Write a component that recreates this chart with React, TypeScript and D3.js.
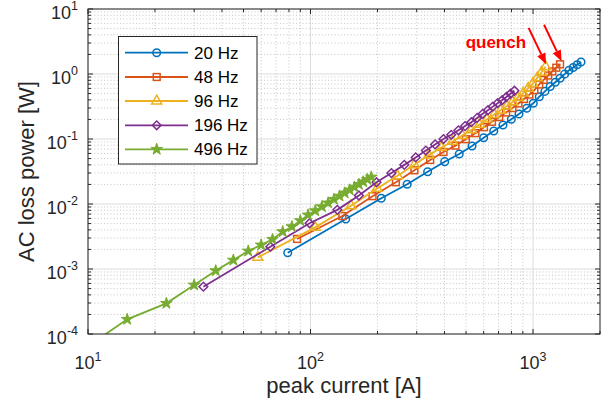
import React from 'react';
import * as d3 from 'd3';

const FONT = "'Liberation Sans', Arial, Helvetica, sans-serif";

// ---- data (peak current [A], AC loss power [W]) ----
const I20 = [79, 144, 208, 272, 336, 401, 466, 532, 600, 666, 733, 799, 865, 937, 1003, 1067, 1131, 1195, 1259, 1323, 1387, 1451, 1515, 1579, 1643];
const P20 = [1.78e-3, 5.87e-3, 0.01225, 0.0201, 0.0314, 0.0448, 0.0588, 0.078, 0.1047, 0.1327, 0.164, 0.201, 0.2425, 0.2966, 0.354, 0.447, 0.54, 0.643, 0.746, 0.861, 0.995, 1.14, 1.26, 1.39, 1.53];

const I48 = [87, 139, 190, 242, 293, 345, 396, 448, 499, 551, 602, 654, 705, 757, 808, 860, 911, 963, 1014, 1066, 1117, 1169, 1220, 1272, 1323];
const P48 = [2.9e-3, 6.53e-3, 0.0132, 0.0216, 0.033, 0.0476, 0.0631, 0.0791, 0.0993, 0.123, 0.152, 0.184, 0.218, 0.256, 0.299, 0.352, 0.412, 0.482, 0.565, 0.69, 0.813, 0.948, 1.094, 1.25, 1.41];

const I96 = [58, 105, 152, 199, 246, 293, 340, 387, 434, 481, 528, 575, 622, 669, 716, 763, 810, 857, 904, 951, 998, 1045, 1092, 1139];
const P96 = [1.51e-3, 4.37e-3, 9.38e-3, 0.01734, 0.0271, 0.0401, 0.0565, 0.0741, 0.0918, 0.113, 0.138, 0.1675, 0.202, 0.238, 0.277, 0.321, 0.372, 0.435, 0.508, 0.6, 0.71, 0.869, 1.064, 1.29];

const I196 = [33, 66, 99, 132, 165, 198, 231, 264, 297, 330, 363, 396, 429, 462, 495, 528, 561, 594, 627, 660, 693, 726, 759, 792, 825];
const P196 = [5.35e-4, 2.2e-3, 5.05e-3, 8.13e-3, 0.0135, 0.0216, 0.0299, 0.04, 0.0521, 0.0664, 0.0826, 0.0998, 0.116, 0.136, 0.158, 0.1815, 0.211, 0.244, 0.277, 0.315, 0.356, 0.395, 0.443, 0.497, 0.553];

const I496 = [7.5, 15, 22.5, 30, 37.5, 45, 52.5, 60, 67.5, 75, 82.5, 90, 97.5, 105, 112.5, 120, 127.5, 135, 142.5, 150, 157.5, 165, 172.5, 180, 187.5];
const P496 = [3.3e-5, 1.68e-4, 2.96e-4, 5.67e-4, 9.4e-4, 1.37e-3, 1.89e-3, 2.34e-3, 2.86e-3, 3.75e-3, 4.48e-3, 5.54e-3, 6.78e-3, 7.88e-3, 9.1e-3, 0.0104, 0.0118, 0.01324, 0.01479, 0.01644, 0.0182, 0.02004, 0.02193, 0.02393, 0.026];

const seriesNames = ['20 Hz', '48 Hz', '96 Hz', '196 Hz', '496 Hz'];
const seriesColors = ['#0072BD', '#D95319', '#EDB120', '#7E2F8E', '#77AC30'];
const seriesMarkers = ['circle', 'square', 'triangle', 'diamond', 'star'];

const xTickExps = [1, 2, 3];
const yTickExps = [-4, -3, -2, -1, 0, 1];

const xLabel = 'peak current [A]';
const yLabel = 'AC loss power [W]';
const annotation = 'quench';

const W = 613;
const H = 410;
const L = 88, R = 600, T = 9, B = 334;

function Marker({ type, color, cx, cy }: { type: string; color: string; cx: number; cy: number }) {
  const t = `translate(${cx},${cy})`;
  const sw = 1.5;
  if (type === 'circle') return <circle cx={cx} cy={cy} r={3.8} fill="none" stroke={color} strokeWidth={sw} />;
  if (type === 'square') return <rect x={cx - 3.4} y={cy - 3.4} width={6.8} height={6.8} fill="none" stroke={color} strokeWidth={sw} />;
  if (type === 'triangle') return <path transform={t} d={d3.symbol(d3.symbolTriangle, 44)() || ''} fill="none" stroke={color} strokeWidth={sw} />;
  if (type === 'diamond') return <path transform={`${t} rotate(45)`} d={d3.symbol(d3.symbolSquare, 38)() || ''} fill="none" stroke={color} strokeWidth={sw} />;
  return <path transform={t} d={d3.symbol(d3.symbolStar, 42)() || ''} fill={color} stroke={color} strokeWidth={1} />;
}

export default function App() {
  const x = d3.scaleLog().domain([10, 2000]).range([L, R]);
  const y = d3.scaleLog().domain([1e-4, 10]).range([B, T]);

  const series = [
    { I: I20, P: P20 },
    { I: I48, P: P48 },
    { I: I96, P: P96 },
    { I: I196, P: P196 },
    { I: I496, P: P496 },
  ].map((s, i) => ({ ...s, name: seriesNames[i], color: seriesColors[i], marker: seriesMarkers[i] }));

  const line = d3.line<[number, number]>().x((d) => x(d[0])).y((d) => y(d[1]));

  const xTicks = x.ticks();
  const yTicks = y.ticks();
  const isMajor = (v: number) => Math.abs(Math.log10(v) - Math.round(Math.log10(v))) < 1e-9;

  const axisColor = '#262626';

  // arrows to the last points of 96 Hz and 48 Hz
  const tips = [
    { px: x(I96[I96.length - 1]) + 0.5, py: y(P96[P96.length - 1]) - 2.5 },
    { px: x(I48[I48.length - 1]) + 1.5, py: y(P48[P48.length - 1]) - 3 },
  ];
  const arrows = tips.map((tp) => {
    const tx = tp.px - 17.5, ty = tp.py - 36.5;
    const dx = tp.px - tx, dy = tp.py - ty;
    const len = Math.hypot(dx, dy);
    const ux = dx / len, uy = dy / len;
    const hl = 11, hw = 4.5;
    const bx = tp.px - ux * hl, by = tp.py - uy * hl;
    const head = `M${tp.px},${tp.py}L${bx - uy * hw},${by + ux * hw}L${bx + uy * hw},${by - ux * hw}Z`;
    return { tx, ty, bx, by, head, tipx: tp.px, tipy: tp.py };
  });

  const legX = 118.5, legY = 36.5, legW = 138.5, legH = 127.5;
  const legRows = [52.7, 77, 101, 125.3, 149.3];

  return (
    <svg width={W} height={H} style={{ position: 'absolute', left: 0, top: 0, background: '#fff' }} fontFamily={FONT}>
      <defs>
        <clipPath id="plotclip">
          <rect x={L} y={T} width={R - L} height={B - T} />
        </clipPath>
      </defs>
      <rect x={0} y={0} width={W} height={H} fill="#fff" />
      {/* grid */}
      <g>
        {xTicks.filter((v) => !isMajor(v)).map((v, i) => (
          <line key={'xm' + i} x1={x(v)} x2={x(v)} y1={T} y2={B} stroke="#b8b8b8" strokeWidth={0.8} strokeDasharray="1 2.2" />
        ))}
        {yTicks.filter((v) => !isMajor(v)).map((v, i) => (
          <line key={'ym' + i} x1={L} x2={R} y1={y(v)} y2={y(v)} stroke="#b8b8b8" strokeWidth={0.8} strokeDasharray="1 2.2" />
        ))}
        {xTicks.filter((v) => isMajor(v)).map((v, i) => (
          <line key={'xM' + i} x1={x(v)} x2={x(v)} y1={T} y2={B} stroke="#dcdcdc" strokeWidth={1} />
        ))}
        {yTicks.filter((v) => isMajor(v)).map((v, i) => (
          <line key={'yM' + i} x1={L} x2={R} y1={y(v)} y2={y(v)} stroke="#dcdcdc" strokeWidth={1} />
        ))}
      </g>
      {/* series */}
      <g clipPath="url(#plotclip)">
        {series.map((s) => {
          const pts = s.I.map((v, i) => [v, s.P[i]] as [number, number]);
          return (
            <g key={s.name}>
              <path d={line(pts) || ''} fill="none" stroke={s.color} strokeWidth={1.8} />
              {pts.map((p, i) => (
                <Marker key={i} type={s.marker} color={s.color} cx={x(p[0])} cy={y(p[1])} />
              ))}
            </g>
          );
        })}
      </g>
      {/* axes box and ticks */}
      <g stroke={axisColor} strokeWidth={1}>
        {xTicks.map((v, i) => {
          const len = isMajor(v) ? 5 : 3;
          const px = x(v);
          return (
            <g key={'xt' + i}>
              <line x1={px} x2={px} y1={B} y2={B - len} />
              <line x1={px} x2={px} y1={T} y2={T + len} />
            </g>
          );
        })}
        {yTicks.map((v, i) => {
          const len = isMajor(v) ? 5 : 3;
          const py = y(v);
          return (
            <g key={'yt' + i}>
              <line x1={L} x2={L + len} y1={py} y2={py} />
              <line x1={R} x2={R - len} y1={py} y2={py} />
            </g>
          );
        })}
        <rect x={L} y={T} width={R - L} height={B - T} fill="none" />
      </g>
      {/* tick labels */}
      <g fill={axisColor}>
        {xTickExps.map((e) => (
          <text key={'xl' + e} x={x(Math.pow(10, e))} y={369} textAnchor="middle" fontSize={18}>
            10<tspan fontSize={12.5} dy={-8.5}>{e}</tspan>
          </text>
        ))}
        {yTickExps.map((e) => (
          <text key={'yl' + e} x={78} y={y(Math.pow(10, e)) + 9.5} textAnchor="end" fontSize={18}>
            10<tspan fontSize={12.5} dy={-8.5}>{e}</tspan>
          </text>
        ))}
      </g>
      {/* axis labels */}
      <text x={(L + R) / 2} y={393} textAnchor="middle" fontSize={22} fill={axisColor}>{xLabel}</text>
      <text transform={`translate(33.5,${(T + B) / 2}) rotate(-90)`} textAnchor="middle" fontSize={22} fill={axisColor}>{yLabel}</text>
      {/* annotation */}
      <g>
        {arrows.map((a, i) => (
          <g key={'ar' + i}>
            <line x1={a.tx} y1={a.ty} x2={a.bx} y2={a.by} stroke="#ff0000" strokeWidth={2} />
            <path d={a.head} fill="#ff0000" />
          </g>
        ))}
        <text x={arrows[0].tx - 2.5} y={48} textAnchor="end" fontSize={17} fontWeight="bold" fill="#ff0000">{annotation}</text>
      </g>
      {/* legend */}
      <g>
        <rect x={legX} y={legY} width={legW} height={legH} fill="#fff" stroke={axisColor} strokeWidth={1} />
        {series.map((s, i) => (
          <g key={'lg' + i}>
            <line x1={125} x2={188} y1={legRows[i]} y2={legRows[i]} stroke={s.color} strokeWidth={1.8} />
            <Marker type={s.marker} color={s.color} cx={156.7} cy={legRows[i]} />
            <text x={194} y={legRows[i] + 6} fontSize={17} fill="#000">{s.name}</text>
          </g>
        ))}
      </g>
    </svg>
  );
}
